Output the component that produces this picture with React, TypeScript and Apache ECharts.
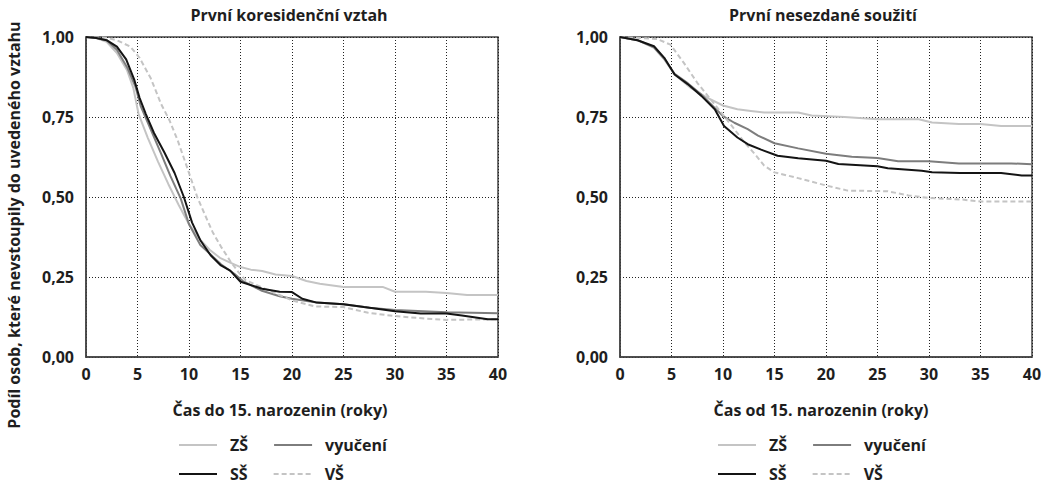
import React, { useEffect, useRef } from "react";
import * as echarts from "echarts";

// ---- data ----
const legendRow1 = ["ZŠ", "vyučení"];
const legendRow2 = ["SŠ", "VŠ"];
const titles = ["První koresidenční vztah", "První nesezdané soužití"];
const xNames = ["Čas do 15. narozenin (roky)", "Čas od 15. narozenin (roky)"];
const yName = "Podíl osob, které nevstoupily do uvedeného vztahu";

// Left: first co-residential union  [years, share]
const koresZS = [[0,1],[1,0.997],[2,0.985],[3,0.95],[4,0.895],[4.6,0.84],[5.1,0.76],[6,0.685],[7,0.61],[8,0.54],[9,0.475],[10,0.415],[11,0.37],[12,0.335],[13,0.31],[14,0.295],[15,0.281],[16,0.273],[17.1,0.269],[18.4,0.258],[20,0.253],[21.4,0.2375],[22.7,0.229],[25,0.219],[28.8,0.219],[30,0.204],[33,0.204],[35,0.2],[37,0.194],[40,0.194]];
const koresVyuc = [[0,1],[1,0.997],[2,0.99],[3,0.96],[4,0.905],[4.8,0.845],[5.3,0.785],[6.3,0.71],[7.3,0.635],[8.2,0.565],[9.2,0.495],[10,0.415],[11.1,0.35],[12.1,0.32],[13.1,0.29],[14.4,0.26],[15.2,0.238],[17,0.208],[18.8,0.19],[20,0.182],[22.4,0.17],[25,0.165],[27.5,0.154],[30,0.147],[35,0.14],[40,0.137]];
const koresSS = [[0,1],[1,0.997],[2,0.99],[3,0.97],[3.9,0.93],[4.7,0.865],[5.2,0.81],[5.8,0.76],[6.6,0.7],[7.6,0.64],[8.6,0.575],[9.5,0.5],[10.3,0.42],[11.1,0.365],[12.1,0.318],[13.1,0.286],[14,0.27],[15,0.235],[17.1,0.2135],[18.8,0.204],[20,0.203],[21,0.182],[22.4,0.17],[23.5,0.168],[25,0.165],[27,0.156],[28.6,0.149],[30,0.143],[32.5,0.136],[35,0.136],[36.5,0.13],[39,0.118],[40,0.118]];
const koresVS = [[0,1],[2,0.998],[3,0.99],[4.3,0.97],[5.2,0.935],[6.3,0.87],[7.3,0.79],[8.1,0.74],[8.9,0.677],[9.8,0.594],[10.8,0.5],[11.5,0.448],[12.3,0.39],[13.1,0.345],[14,0.3],[14.8,0.265],[15.5,0.24],[17.1,0.217],[20,0.177],[22.2,0.158],[25,0.156],[27.4,0.138],[30,0.128],[33,0.12],[35,0.116],[40,0.118]];

// Right: first unmarried cohabitation  [years, share]
const soužZS = [[0,1],[1.7,0.99],[3.3,0.966],[4.3,0.93],[5.3,0.883],[6.9,0.84],[8.5,0.81],[10,0.786],[11.4,0.774],[12.7,0.769],[14,0.764],[17.3,0.764],[18.6,0.755],[21.8,0.75],[25,0.743],[29,0.743],[30.3,0.733],[32.9,0.728],[35,0.728],[37,0.722],[40,0.722]];
const soužVyuc = [[0,1],[1.7,0.99],[3.3,0.968],[4.3,0.932],[5.3,0.885],[6.6,0.855],[7.9,0.82],[9.2,0.778],[10,0.753],[11.1,0.732],[12.4,0.712],[13.4,0.692],[15,0.668],[17.3,0.652],[20,0.635],[22.5,0.626],[25,0.622],[27,0.612],[30,0.612],[32.9,0.605],[38,0.605],[40,0.602]];
const soužSS = [[0,1],[1.7,0.99],[3.3,0.971],[4.3,0.935],[5.3,0.883],[6.6,0.852],[7.9,0.816],[9.2,0.774],[10.1,0.722],[11.4,0.686],[12.4,0.665],[13.7,0.648],[15.3,0.629],[17.3,0.621],[20,0.613],[21.2,0.603],[25,0.596],[26,0.59],[29.3,0.582],[30.3,0.577],[33,0.575],[37,0.575],[39,0.567],[40,0.567]];
const soužVS = [[0,1],[3.6,0.994],[4.9,0.976],[6.2,0.919],[7.5,0.857],[8.8,0.805],[10.1,0.753],[11.1,0.712],[12.1,0.67],[13.1,0.634],[14,0.598],[15,0.577],[17.3,0.559],[20,0.536],[22.1,0.52],[26,0.518],[28,0.505],[30,0.497],[33.2,0.492],[35,0.486],[40,0.486]];

const FONT = "'Open Sans', 'Noto Sans', sans-serif";
const TXT = "#1e1e1e";
const FW = "bold";
const FS = 16;

const styles: Record<string, any> = {
  "ZŠ": { color: "#c4c4c4", width: 2, type: "solid" },
  "vyučení": { color: "#7d7d7d", width: 2, type: "solid" },
  "SŠ": { color: "#141414", width: 2, type: "solid" },
  "VŠ": { color: "#c4c4c4", width: 2, type: [5, 3] },
};

const gridLefts = [86, 620];
const GW = 412;
const nameShift = [24, 10];

export default function App() {
  const ref = useRef<HTMLDivElement>(null);
  useEffect(() => {
    if (!ref.current) return;
    const chart = echarts.init(ref.current, undefined, { renderer: "svg" });

    const grid = { type: [1, 2], color: "#222", width: 1 };
    const mkX = (i: number) => ({
      type: "value", gridIndex: i, min: 0, max: 40, interval: 5,
      axisLine: { show: true, onZero: false, lineStyle: { color: "#444", width: 1.5 } },
      axisTick: { show: false },
      splitLine: { show: true, lineStyle: grid },
      axisLabel: { color: TXT, fontSize: FS, fontFamily: FONT, fontWeight: FW, margin: 9 },
      name: xNames[i], nameLocation: "middle", nameGap: 45,
      nameTextStyle: { color: TXT, fontSize: FS, fontFamily: FONT, fontWeight: FW,
        padding: [0, nameShift[i], 0, 0] },
    });
    const mkY = (i: number) => ({
      type: "value", gridIndex: i, min: 0, max: 1, interval: 0.25,
      axisLine: { show: true, lineStyle: { color: "#444", width: 1.5 } },
      axisTick: { show: false },
      splitLine: { show: true, lineStyle: grid },
      axisLabel: {
        color: TXT, fontSize: FS, fontFamily: FONT, fontWeight: FW, margin: 12,
        padding: [14, 0, 0, 0],
        formatter: (v: number) => v.toFixed(2).replace(".", ","),
      },
    });

    const sets = [
      { "ZŠ": koresZS, "vyučení": koresVyuc, "VŠ": koresVS, "SŠ": koresSS },
      { "ZŠ": soužZS, "vyučení": soužVyuc, "VŠ": soužVS, "SŠ": soužSS },
    ];
    const series: any[] = [];
    sets.forEach((set, i) => {
      Object.keys(set).forEach((name) => {
        series.push({
          type: "line", name, xAxisIndex: i, yAxisIndex: i,
          data: (set as any)[name], symbol: "none", showSymbol: false,
          lineStyle: styles[name], itemStyle: { color: styles[name].color, opacity: 0 },
          z: name === "SŠ" ? 4 : 3,
        });
      });
    });

    const legendBase = {
      orient: "horizontal", itemWidth: 38, itemHeight: 14, itemGap: 25,
      padding: 0, selectedMode: false,
      itemStyle: { opacity: 0, borderWidth: 0 },
      textStyle: { color: TXT, fontSize: FS, fontFamily: FONT, fontWeight: FW, padding: [0, 0, 0, 8] },
    };
    const legStarts = [178, 717];
    const legends: any[] = [];
    legStarts.forEach((l) => {
      legends.push({ ...legendBase, data: legendRow1, left: l, top: 437 });
      legends.push({ ...legendBase, data: legendRow2, left: l, top: 466 });
    });

    const graphic: any[] = [
      {
        type: "text", x: 14, y: 225, rotation: Math.PI / 2,
        style: { text: yName, fill: TXT, fontSize: FS, fontFamily: FONT, fontWeight: FW,
          align: "center", verticalAlign: "middle", textAlign: "center", textVerticalAlign: "middle" },
      },
      ...titles.map((t, i) => ({
        type: "text", x: gridLefts[i] + GW / 2 - 3, y: 15,
        style: { text: t, fill: TXT, fontSize: FS, fontFamily: FONT, fontWeight: FW,
          align: "center", verticalAlign: "middle", textAlign: "center", textVerticalAlign: "middle" },
      })),
    ];

    chart.setOption({
      animation: false,
      backgroundColor: "#ffffff",
      textStyle: { fontFamily: FONT },
      grid: gridLefts.map((l) => ({
        left: l, top: 37, width: GW, height: 320, show: true,
        borderColor: "#444", borderWidth: 1.5, backgroundColor: "transparent",
      })),
      xAxis: [mkX(0), mkX(1)],
      yAxis: [mkY(0), mkY(1)],
      legend: legends,
      graphic,
      series,
    });
    return () => chart.dispose();
  }, []);
  return (
    <div
      ref={ref}
      style={{ position: "fixed", left: 0, top: 0, width: 1048, height: 486 }}
    />
  );
}
